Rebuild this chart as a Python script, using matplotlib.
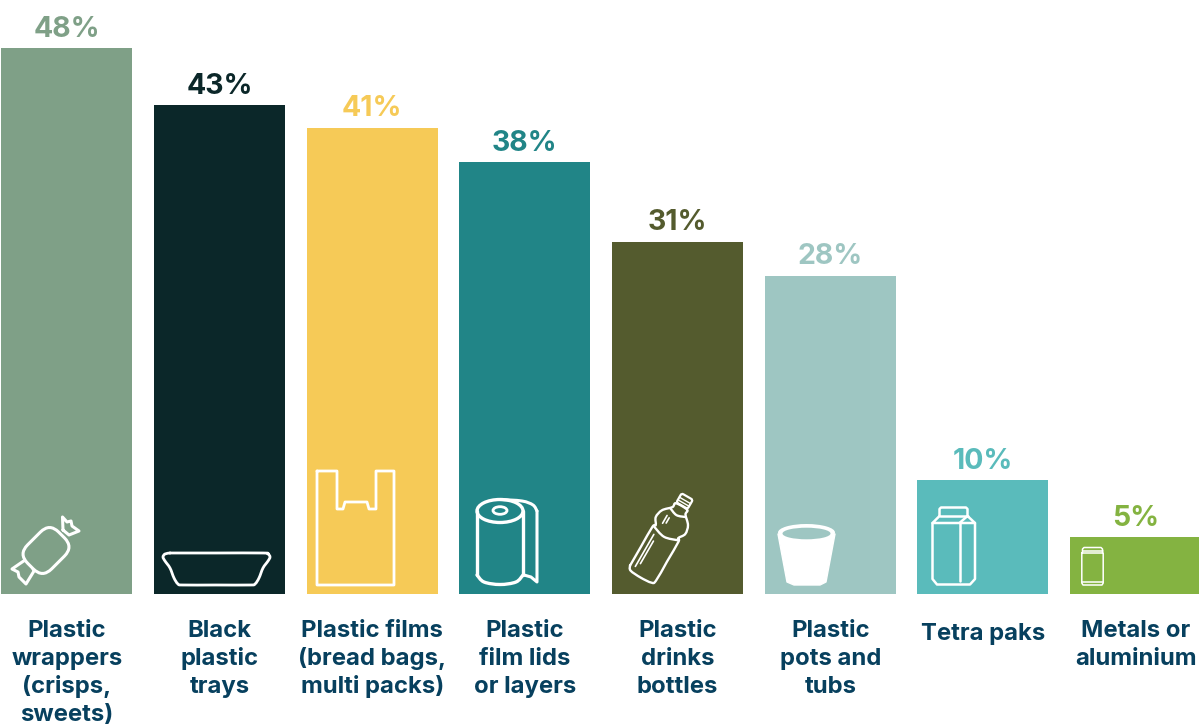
#!/usr/bin/env python3
"""Packaging types people find hardest to recycle, as one bar per material."""

import numpy as np
import matplotlib
matplotlib.use('Agg')
import matplotlib.pyplot as plt
from matplotlib.patches import Ellipse, FancyBboxPatch, PathPatch, Polygon
from matplotlib.path import Path
from matplotlib.transforms import Affine2D

categories = [
    ['Plastic', 'wrappers', '(crisps,', 'sweets)'],
    ['Black', 'plastic', 'trays'],
    ['Plastic films', '(bread bags,', 'multi packs)'],
    ['Plastic', 'film lids', 'or layers'],
    ['Plastic', 'drinks', 'bottles'],
    ['Plastic', 'pots and', 'tubs'],
    ['Tetra paks'],
    ['Metals or', 'aluminium'],
]
values = [48, 43, 41, 38, 31, 28, 10, 5]
bar_colors = ['#7FA087', '#0B2729', '#F6CA57', '#218587',
              '#545B2E', '#9EC6C2', '#5ABBBB', '#84B341']

TEXT_COLOR = '#07405E'
FONT = 'Inter'
W, H = 1199, 724

# layout, in pixels of the saved image
FIRST_CENTER = 66.8
STEP = 152.7
BAR_W = 131
BASELINE = 594
PX_PER_PCT = 11.37

fig = plt.figure(figsize=(W / 100, H / 100), dpi=100)
ax = fig.add_axes([0, 0, 1, 1])
ax.set_xlim(-FIRST_CENTER / STEP, (W - FIRST_CENTER) / STEP)
ax.set_ylim((BASELINE - H) / PX_PER_PCT, BASELINE / PX_PER_PCT)
ax.axis('off')

x = np.arange(len(values))
ax.bar(x, values, width=BAR_W / STEP, color=bar_colors, linewidth=0)

# transform for the icons: image pixels, y pointing down
px = Affine2D().scale(1, -1).translate(0, H)


def curve(verts):
    """Smooth path through verts (Catmull-Rom converted to cubic beziers)."""
    verts = np.asarray(verts, dtype=float)
    codes = [Path.MOVETO]
    out = [verts[0]]
    n = len(verts)
    for i in range(n - 1):
        p0 = verts[max(i - 1, 0)]
        p1 = verts[i]
        p2 = verts[i + 1]
        p3 = verts[min(i + 2, n - 1)]
        out += [p1 + (p2 - p0) / 6, p2 - (p3 - p1) / 6, p2]
        codes += [Path.CURVE4] * 3
    return Path(out, codes)


def stroke(verts, lw=2.0, closed=False, smooth=False, fc='none', trans=None):
    verts = np.asarray(verts, dtype=float)
    if closed:
        verts = np.vstack([verts, verts[0]])
    path = curve(verts) if smooth else Path(verts)
    ax.add_patch(PathPatch(path, fc=fc, ec='white', lw=lw, transform=trans or px,
                           joinstyle='round', capstyle='round'))


def ellipse(cx, cy, rx, ry, lw=2.0, fc='none', ec='white'):
    ax.add_patch(Ellipse((cx, cy), 2 * rx, 2 * ry, fc=fc, ec=ec, lw=lw, transform=px))


def draw_candy():
    stroke([(63, 530), (62.5, 517), (67, 522), (71, 521), (72, 526), (79, 531), (69, 535)], lw=2.2, closed=True)
    stroke([(28, 558), (12, 569), (18, 572), (19, 577), (26, 584), (34, 571)], lw=2.2, closed=True)
    ax.add_patch(FancyBboxPatch((-22, -17), 44, 34, boxstyle='round,pad=0,rounding_size=13',
                                fc=bar_colors[0], ec='white', lw=2.2,
                                transform=Affine2D().rotate_deg(-45).translate(46, 550.5) + px))


def draw_tray():
    stroke([(170, 553), (216, 553), (263, 553), (268, 554), (270, 557), (268, 561), (263, 568), (259, 578),
            (255, 584), (250, 585), (216, 585), (183, 585), (178, 584), (174, 578), (170, 568), (165, 561),
            (163, 557), (165, 554), (170, 553)], smooth=True)


def draw_bag():
    stroke([(317, 471), (337, 471), (337, 509), (343, 509), (345, 502), (367, 502), (369, 509),
            (376, 509), (376, 471), (394, 471), (394, 585), (317, 585)], closed=True)


def draw_roll():
    ellipse(500, 511, 23, 11.5, lw=2.4)
    ellipse(500, 510.5, 7, 3.8, lw=2.0)
    stroke([(477, 511), (477, 575)], lw=2.4)
    stroke([(523, 511), (523, 575)], lw=2.4)
    stroke([(477, 575), (484, 582), (500, 584.5), (516, 582), (523, 575)], lw=2.4, smooth=True)
    stroke([(500, 499.5), (522, 501), (533, 505), (537, 511)], lw=2.2, smooth=True)
    stroke([(537, 511), (537, 582), (531, 577), (524, 575)], lw=2.2)


def draw_bottle():
    # drawn upright around the base centre, then leaned over to the right
    t = Affine2D().scale(1, -1).rotate_deg(30).translate(640.5, 577.5) + px
    outline = [(-15, 5), (-12, 1), (0, 0), (12, 1), (15, 5), (15, 27), (15, 50), (13, 53), (17, 60), (15, 69),
               (7.5, 77), (6.5, 82), (-6.5, 82), (-7.5, 77), (-15, 69), (-17, 60), (-13, 53), (-15, 50), (-15, 27), (-15, 5)]
    stroke(outline, lw=1.7, smooth=True, trans=t)
    stroke([(-14, 51), (0, 47), (14, 51)], lw=1.7, smooth=True, trans=t)
    stroke([(-9, 75), (0, 72), (9, 75)], lw=1.7, smooth=True, trans=t)
    ax.add_patch(FancyBboxPatch((-6.5, 83), 13, 10.5, boxstyle='round,pad=0,rounding_size=2',
                                fc='none', ec='white', lw=1.6, transform=t))
    for v in (86, 89):
        stroke([(-6.5, v), (6.5, v)], lw=1.0, trans=t)
    for u, v0, v1 in [(-10, 7, 44), (-7, 12, 38), (-8, 58, 67), (-5, 60, 66)]:
        stroke([(u, v0), (u, v1)], lw=1.2, trans=t)


def draw_cup():
    ax.add_patch(Polygon([(778, 534), (787, 582), (794, 585), (820, 585), (826, 582), (835, 534)],
                         fc='white', ec='white', lw=1, joinstyle='round', transform=px))
    ellipse(806.5, 532.5, 28.5, 8.5, lw=0, fc='white', ec='white')
    ellipse(806.5, 533.5, 24, 5.8, lw=0, fc=bar_colors[5], ec=bar_colors[5])


def draw_carton():
    stroke([(939.5, 516), (939.5, 509), (941, 507.5), (966, 507.5), (967.5, 509), (967.5, 516)], lw=1.8)
    stroke([(939.5, 516), (967.5, 516)], lw=1.8)
    stroke([(939.5, 516), (932.5, 523), (975, 523), (967.5, 516)], lw=1.8)
    stroke([(959.5, 523), (967.5, 516)], lw=1.8)
    stroke([(932.5, 523), (932.5, 579), (937, 584.5), (970, 584.5), (975, 579), (975, 523)], lw=1.8)
    stroke([(959.5, 523), (959.5, 581)], lw=1.8)


def draw_can():
    stroke([(1082.5, 553), (1082.5, 549), (1084, 547.5), (1101, 547.5), (1102.5, 549), (1102.5, 553)], lw=1.1)
    stroke([(1082.5, 551), (1102.5, 551)], lw=1.1)
    stroke([(1081.8, 553), (1103.2, 553), (1103.2, 583), (1102, 585), (1083, 585), (1081.8, 583)], lw=1.1, closed=True)
    stroke([(1081.8, 582), (1103.2, 582)], lw=1.1)


for draw in (draw_candy, draw_tray, draw_bag, draw_roll, draw_bottle, draw_cup, draw_carton, draw_can):
    draw()

# value above each bar
for i, v in enumerate(values):
    ax.annotate(f'{v}%', (i, v), xytext=(0, 8.2), textcoords='offset points', ha='center', va='baseline',
                color=bar_colors[i], fontsize=20.5, fontweight='bold', family=FONT)

# category names, one text per line so the leading stays fixed
for i, lines in enumerate(categories):
    first = 640 if len(lines) == 1 else 637
    for j, line in enumerate(lines):
        y_px = first + 28 * j
        ax.text(i, (BASELINE - y_px) / PX_PER_PCT, line, ha='center', va='baseline', color=TEXT_COLOR,
                fontsize=17.2, fontweight='bold', family=FONT, clip_on=True)

fig.savefig('out.png', dpi=100)
